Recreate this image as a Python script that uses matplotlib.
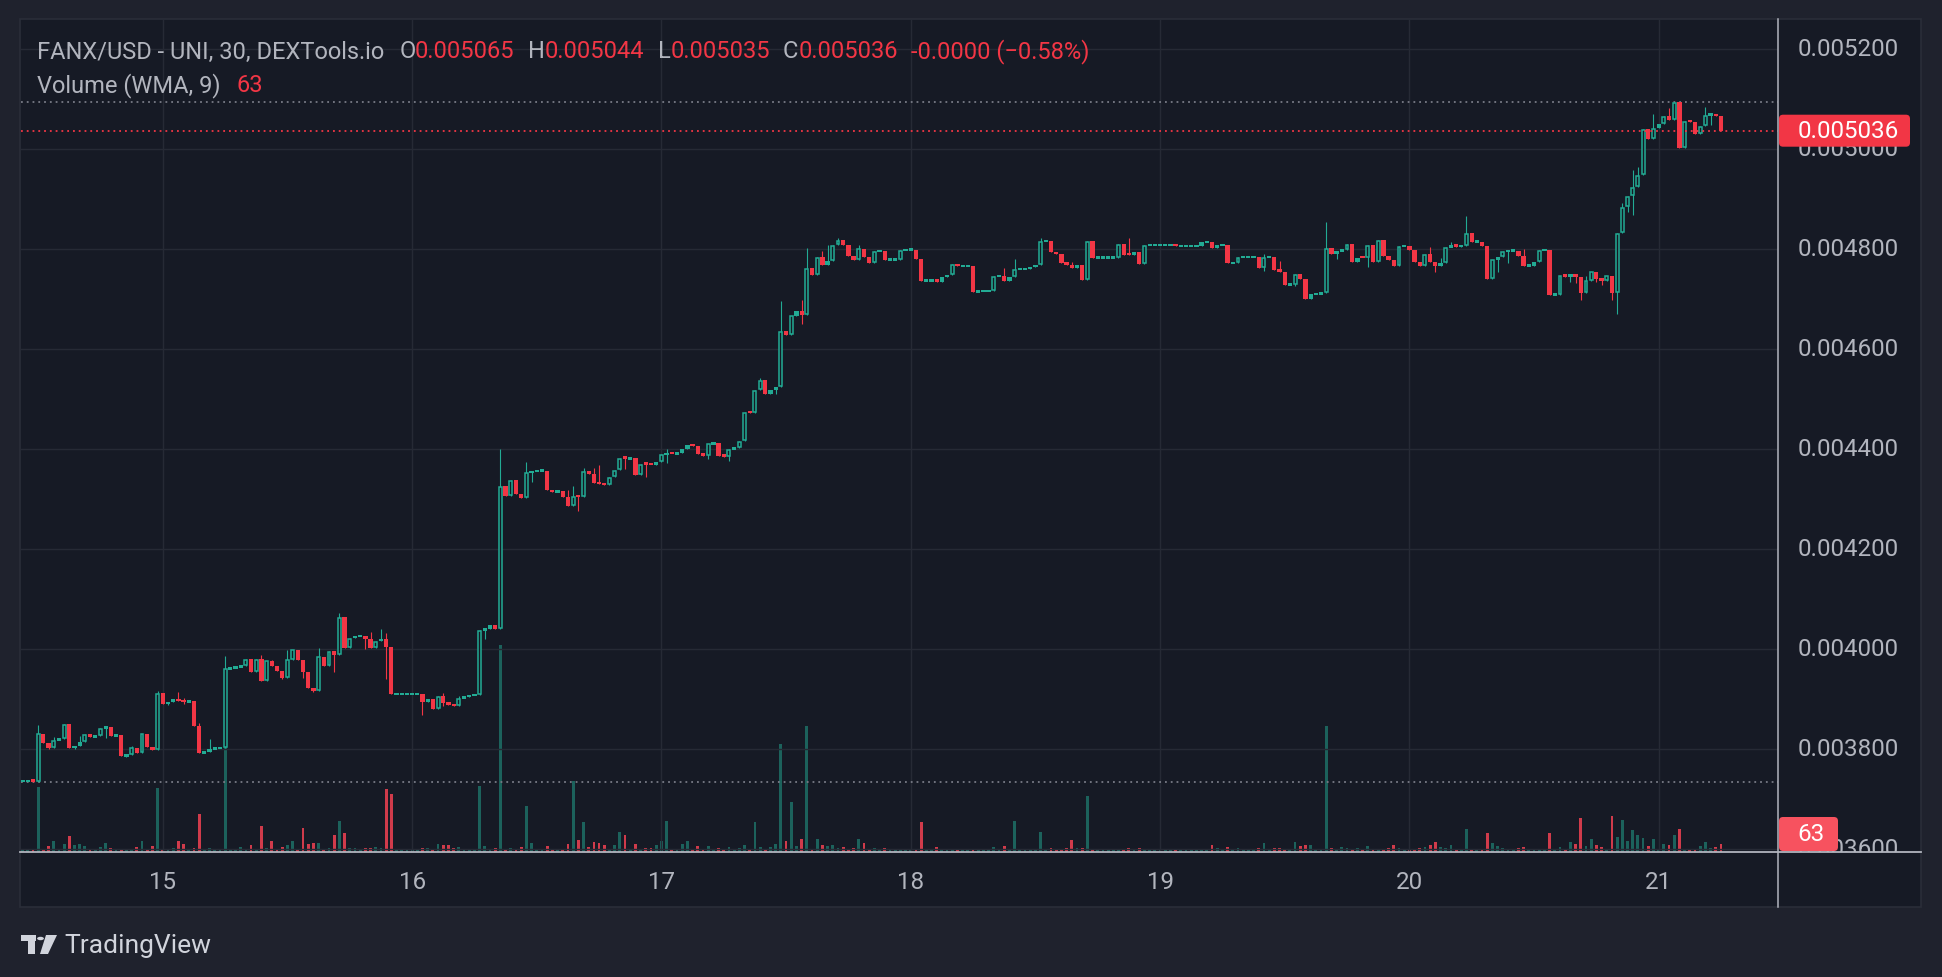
import matplotlib
matplotlib.use('Agg')
import matplotlib.pyplot as plt
from matplotlib.patches import Rectangle, Circle, Polygon, FancyBboxPatch
from matplotlib.lines import Line2D
import numpy as np

W, H, DPI = 1942, 978, 100

# 30 minute candles, the first one opens on the 14th at 10:30
start_day = 14 + 10.5 / 24
# closes in millionths of a USD, one row per ~10 candles
close_u = [
    3735, 3735, 3734, 3830, 3811, 3802, 3817, 3820, 3849, 3801,
    3805, 3813, 3829, 3823, 3825, 3841, 3843, 3825, 3828, 3785,
    3788, 3802, 3792, 3830, 3803, 3797, 3911,
    # 15th
    3890, 3893, 3899, 3895, 3893, 3895, 3845, 3791, 3793, 3800,
    3801, 3801, 3960, 3961, 3963, 3966, 3979, 3953, 3979, 3935,
    3976, 3965, 3955, 3941, 3978, 3998, 3978, 3954, 3921, 3915,
    3984, 3965, 3995, 3987, 4063, 4001, 4021, 4025, 4026, 4019,
    4001, 4015, 4020, 4003, 3909, 3909, 3909, 3909,
    # 16th
    3909, 3909, 3893, 3900, 3879, 3905, 3892, 3888, 3885, 3901,
    3903, 3907, 3908, 4037, 4040, 4047, 4040, 4325, 4305, 4337,
    4309, 4302, 4352, 4355, 4356, 4356, 4317, 4313, 4315, 4303,
    4285, 4305, 4303, 4355, 4350, 4332, 4329, 4327, 4343, 4357,
    4381, 4380, 4381, 4347, 4369, 4368, 4367, 4373,
    # 17th
    4389, 4390, 4389, 4391, 4400, 4407, 4405, 4389, 4386, 4410,
    4411, 4386, 4384, 4399, 4401, 4415, 4473, 4471, 4517, 4537,
    4510, 4517, 4524, 4635, 4628, 4666, 4675, 4668, 4761, 4748,
    4783, 4768, 4776, 4807, 4817, 4808, 4786, 4778, 4800, 4784,
    4772, 4795, 4796, 4778, 4778, 4778, 4797, 4798,
    # 18th
    4798, 4780, 4736, 4736, 4736, 4734, 4743, 4747, 4769, 4765,
    4765, 4765, 4714, 4715, 4715, 4715, 4745, 4745, 4736, 4743,
    4759, 4759, 4759, 4763, 4767, 4815, 4815, 4793, 4789, 4772,
    4768, 4762, 4767, 4738, 4815, 4782, 4782, 4782, 4782, 4782,
    4809, 4788, 4787, 4793, 4769, 4807, 4807, 4807,
    # 19th
    4807, 4807, 4807, 4805, 4805, 4805, 4805, 4805, 4813, 4813,
    4801, 4807, 4807, 4771, 4771, 4783, 4783, 4783, 4783, 4761,
    4783, 4783, 4758, 4754, 4728, 4728, 4749, 4739, 4700, 4709,
    4709, 4711, 4801, 4789, 4795, 4797, 4809, 4774, 4782, 4781,
    4807, 4774, 4817, 4786, 4778, 4766, 4805, 4806,
    # 20th
    4797, 4773, 4766, 4789, 4773, 4766, 4771, 4803, 4806, 4804,
    4806, 4831, 4814, 4814, 4806, 4739, 4778, 4783, 4795, 4796,
    4796, 4785, 4766, 4766, 4774, 4797, 4797, 4708, 4708, 4746,
    4744, 4749, 4744, 4711, 4736, 4754, 4739, 4736, 4746, 4711,
    4831, 4883, 4905, 4923, 4947, 5039, 5019, 5041,
    # 21st
    5049, 5065, 5058, 5093, 5001, 5055, 5053, 5029, 5045, 5067,
    5069, 5065, 5036,
]
# wicks that poke out of the body, candle index -> price (millionths)
wick_high_u = {
    3: 3848, 6: 3823, 11: 3825, 16: 3844, 21: 3806, 26: 3915, 30: 3913,
    31: 3901, 34: 3851, 36: 3820, 39: 3986, 46: 3988, 48: 3978, 51: 3998,
    57: 4002, 61: 4072, 65: 4028, 67: 4034, 69: 4039, 70: 4032, 81: 3911,
    84: 3905, 92: 4400, 97: 4373, 105: 4317, 106: 4326, 108: 4362,
    110: 4362, 111: 4368, 116: 4385, 124: 4400, 142: 4541, 146: 4695,
    150: 4697, 151: 4801, 154: 4795, 155: 4807, 157: 4821, 161: 4807,
    189: 4761, 191: 4779, 196: 4821, 202: 4774, 213: 4821, 239: 4789,
    242: 4775, 251: 4853, 271: 4803, 273: 4781, 275: 4813, 278: 4865,
    289: 4799, 301: 4746, 308: 4891, 310: 4957, 311: 4963, 314: 5069,
    317: 5081, 324: 5083,
}
wick_low_u = {
    5: 3800, 10: 3799, 16: 3821, 20: 3783, 28: 3888, 31: 3890, 50: 3939,
    54: 3941, 56: 3913, 60: 3953, 66: 3999, 70: 3939, 77: 3867, 81: 3885,
    89: 4019, 98: 4333, 107: 4275, 116: 4359, 120: 4343, 124: 4371,
    132: 4379, 136: 4375, 145: 4510, 150: 4649, 239: 4756, 245: 4725,
    253: 4779, 259: 4764, 272: 4754, 284: 4753, 286: 4771, 298: 4734,
    299: 4731, 300: 4697, 303: 4734, 304: 4727, 306: 4697, 307: 4669,
    309: 4874, 310: 4867, 325: 5048,
}
volume = [
    16, 16, 26, 514, 16, 47, 87, 16, 66, 126,
    55, 66, 47, 26, 16, 42, 71, 34, 26, 26,
    16, 26, 40, 87, 16, 47, 505, 16, 16, 34,
    87, 66, 16, 34, 303, 16, 34, 16, 16, 997,
    16, 16, 40, 26, 55, 26, 205, 34, 87, 16,
    40, 55, 87, 16, 190, 66, 71, 71, 16, 34,
    134, 245, 150, 34, 34, 16, 34, 34, 40, 34,
    495, 458, 16, 16, 16, 16, 16, 34, 34, 16,
    66, 55, 55, 29, 40, 16, 16, 16, 522, 47,
    26, 34, 1635, 16, 34, 26, 40, 363, 71, 16,
    16, 47, 26, 16, 26, 66, 561, 95, 237, 40,
    79, 71, 55, 26, 55, 160, 134, 16, 66, 16,
    34, 34, 55, 87, 245, 16, 16, 66, 87, 26,
    47, 24, 47, 16, 32, 16, 40, 16, 32, 55,
    16, 237, 40, 16, 40, 63, 853, 87, 395, 47,
    103, 997, 24, 103, 55, 47, 55, 32, 40, 16,
    32, 103, 71, 16, 32, 16, 32, 16, 16, 16,
    16, 16, 24, 237, 16, 16, 40, 16, 24, 24,
    16, 16, 16, 16, 16, 16, 16, 40, 16, 47,
    16, 245, 16, 16, 16, 16, 158, 16, 32, 24,
    24, 32, 95, 32, 32, 442, 16, 16, 16, 16,
    16, 16, 16, 32, 16, 32, 24, 16, 16, 16,
    16, 16, 24, 16, 16, 16, 16, 24, 16, 55,
    32, 16, 40, 16, 32, 16, 16, 16, 32, 71,
    16, 32, 32, 16, 16, 79, 47, 55, 55, 16,
    16, 997, 32, 24, 40, 32, 16, 32, 16, 47,
    24, 24, 16, 32, 55, 32, 16, 24, 16, 32,
    40, 55, 79, 40, 32, 55, 16, 16, 182, 16,
    16, 16, 150, 71, 47, 32, 24, 16, 32, 40,
    16, 16, 24, 16, 150, 16, 40, 16, 79, 63,
    268, 47, 103, 55, 40, 24, 284, 118, 253, 87,
    174, 134, 111, 47, 103, 24, 63, 55, 134, 182,
    24, 24, 16, 47, 79, 32, 40, 63,
]

day_ticks = [15, 16, 17, 18, 19, 20, 21]
price_ticks = [0.0036, 0.0038, 0.0040, 0.0042, 0.0044, 0.0046, 0.0048, 0.0050, 0.0052]
header = [('FANX/USD - UNI, 30, DEXTools.io', 'g'), ('O', 'g'), ('0.005065', 'r'),
          ('H', 'g'), ('0.005044', 'r'), ('L', 'g'), ('0.005035', 'r'),
          ('C', 'g'), ('0.005036', 'r'), ('-0.0000 (\u22120.58%)', 'r')]
header_x = [37, 400, 415, 528, 545, 658, 671, 783, 799, 911]
last_volume = '63'

OUTER = '#1f222d'
BG = '#161a25'
GRID = '#262a35'
GREEN = '#22ab94'
RED = '#f23645'
TXT = '#b2b5be'
FS = 17.4
HFS = 17.0

plt.rcParams['font.family'] = ['Roboto', 'DejaVu Sans']

close = np.array(close_u) / 1e6
n = len(close)
open_ = np.concatenate([[close[0]], close[:-1]])  # DEX candles open on previous close
high = np.maximum(open_, close)
low = np.minimum(open_, close)
for i, v in wick_high_u.items():
    high[i] = v / 1e6
for i, v in wick_low_u.items():
    low[i] = v / 1e6
t = start_day + np.arange(n) / 48
up = close >= open_


def fx(x):
    return x / W


def fy(y):
    return 1 - y / H


fig = plt.figure(figsize=(W / DPI, H / DPI), dpi=DPI)
fig.patch.set_facecolor(OUTER)
fig.add_artist(Rectangle((fx(20), fy(908)), fx(1921) - fx(20), fy(20) - fy(908),
                         transform=fig.transFigure, facecolor=BG,
                         edgecolor='#2a2e39', lw=1.2, zorder=0))

L, R, T, B = 21, 1778, 20, 853
rect = [fx(L), fy(B), fx(R) - fx(L), fy(T) - fy(B)]
ax = fig.add_axes(rect)
axv = ax.twinx()
ax.set_zorder(3)
axv.set_zorder(2)
ax.patch.set_visible(False)
axv.patch.set_visible(False)

xlim = (start_day + (L - 22.56) / 5.194 / 48, start_day + (R - 22.56) / 5.194 / 48)
ylim = (0.0048 - (B - 249.7) * 2e-6, 0.0048 + (249.7 - T) * 2e-6)
px = (ylim[1] - ylim[0]) / (B - T)   # price per pixel
day_px = (R - L) / (xlim[1] - xlim[0])

ax.set_xlim(*xlim)
ax.set_ylim(*ylim)
ax.set_xticks(day_ticks)
ax.set_yticks(price_ticks)
ax.grid(True, color=GRID, lw=1.0)
ax.set_axisbelow(True)
ax.tick_params(length=0, labelbottom=False, labelleft=False, labelright=False)
axv.tick_params(length=0, labelright=False)
for a in (ax, axv):
    for s in a.spines.values():
        s.set_visible(False)

# volume
axv.set_ylim(0, (B - T) * 7.9)
vol_colors = [(0.133, 0.671, 0.58, 0.5) if u else (0.95, 0.26, 0.32, 0.85) for u in up]
axv.bar(t, volume, width=2.8 / day_px, color=vol_colors, lw=0)

# wicks
ax.vlines(t, low, high, colors=[GREEN if u else RED for u in up], lw=0.8, zorder=2)

bw = 4.3 / day_px
body = np.abs(close - open_)
dn = ~up
ax.bar(t[dn], np.maximum(body[dn], 2.5 * px), bottom=np.minimum(open_, close)[dn],
       width=bw, color=RED, lw=0, zorder=3)
small = up & (body < 5 * px)
hb = np.maximum(body[small], 2.5 * px)
ax.bar(t[small], hb, bottom=open_[small] - (hb - body[small]) / 2,
       width=bw, color=GREEN, lw=0, zorder=3)
big = up & ~small
ax.bar(t[big], body[big] - 1.4 * px, bottom=open_[big] + 0.7 * px,
       width=bw - 1.4 / day_px, facecolor=BG, edgecolor=GREEN, lw=1.1, zorder=3)

# dotted range / last price lines
ax.axhline(high.max(), color='#787b86', lw=1.3, ls=(0, (1, 2.2)), zorder=1)
ax.axhline(low.min(), color='#787b86', lw=1.3, ls=(0, (1, 2.2)), zorder=1)
ax.axhline(close[-1], color=RED, lw=1.3, ls=(0, (1, 2.2)), zorder=4)

# day labels
for d in day_ticks:
    ax.text(d, -(882.5 - B) / (B - T), str(d), transform=ax.get_xaxis_transform(),
            ha='center', va='center', color=TXT, fontsize=FS, clip_on=False)

# price scale
axp = fig.add_axes([fx(R), fy(B), fx(1921) - fx(R), fy(T) - fy(B)])
axp.set_xlim(0, 1)
axp.set_ylim(*ylim)
axp.axis('off')
for p in price_ticks:
    axp.text(0.49, p, f'{p:.6f}', ha='center', va='center', color=TXT,
             fontsize=FS, clip_on=True)

# last price and last volume tags (pixel boxes on the figure)
asp = W / H


def tag(x0, y0, x1, y1, color):
    fig.add_artist(FancyBboxPatch((fx(x0), fy(y1)), fx(x1 - x0), (y1 - y0) / H,
                                  boxstyle='round,pad=0,rounding_size=%f' % fx(4),
                                  mutation_aspect=asp, transform=fig.transFigure,
                                  color=color, lw=0, zorder=5))


yc = 249.7 + (0.0048 - close[-1]) / 2e-6
tag(R + 1, yc - 16, 1910, yc + 16, RED)
fig.text(fx(1848), fy(yc), f'{close[-1]:.6f}', ha='center', va='center',
         color='white', fontsize=FS, zorder=6)
tag(R + 1, 818, 1838, B - 1, '#f7525f')
fig.text(fx(1811), fy(835), last_volume, ha='center', va='center', color='white',
         fontsize=FS, zorder=6)

# scale separators
fig.add_artist(Line2D([fx(R), fx(R)], [fy(20), fy(908)], transform=fig.transFigure,
                      color=TXT, lw=1.1, zorder=4))
fig.add_artist(Line2D([fx(20), fx(1921)], [fy(B), fy(B)], transform=fig.transFigure,
                      color=TXT, lw=1.3, zorder=4))

# legend texts
for (s, c), x in zip(header, header_x):
    fig.text(fx(x), fy(52), s, color=TXT if c == 'g' else RED, fontsize=HFS,
             va='center', ha='left')
fig.text(fx(37), fy(86), 'Volume (WMA, 9)', color=TXT, fontsize=HFS, va='center')
fig.text(fx(236), fy(86), last_volume, color=RED, fontsize=HFS, va='center')

# TradingView mark
LOGO = '#d1d4dc'
fig.add_artist(Rectangle((fx(21), fy(942)), fx(15), 6 / H, transform=fig.transFigure,
                         color=LOGO, lw=0))
fig.add_artist(Rectangle((fx(28), fy(955)), fx(7), 19 / H, transform=fig.transFigure,
                         color=LOGO, lw=0))
fig.add_artist(Polygon([(fx(46), fy(936)), (fx(57), fy(936)), (fx(48), fy(955)), (fx(40), fy(955))],
                       transform=fig.transFigure, color=LOGO, lw=0))
fig.add_artist(Circle((fx(40.5), fy(939.5)), fx(3.4), transform=fig.transFigure,
                      color=LOGO, lw=0))
fig.text(fx(64), fy(946), 'TradingView', color=LOGO, fontsize=19.0, va='center')

fig.savefig('out.png', dpi=DPI, facecolor=fig.get_facecolor())
